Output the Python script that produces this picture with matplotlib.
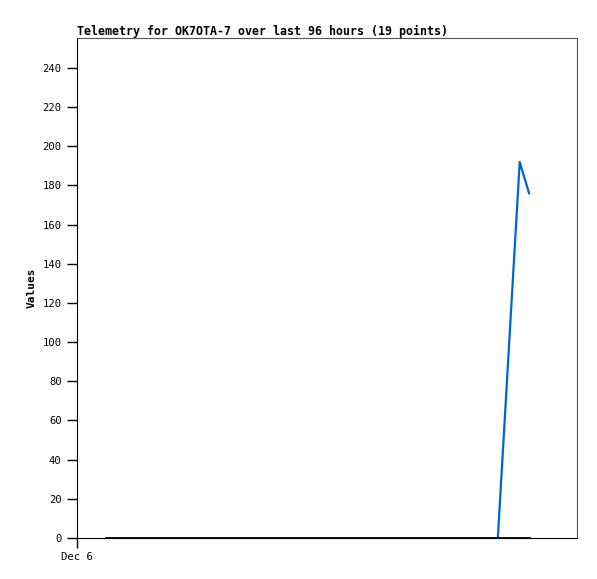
import matplotlib
matplotlib.use("Agg")
import matplotlib.pyplot as plt

# hours since start of the 96 h window
zero_hours = [5.6, 86.8]
zero_values = [0, 0]
val_hours = [80.8, 85.0, 86.8]
val_values = [0, 192, 176]
y_ticks = [0, 20, 40, 60, 80, 100, 120, 140, 160, 180, 200, 220, 240]

plt.rcParams["font.family"] = "DejaVu Sans Mono"

fig = plt.figure(figsize=(5.97, 5.79), dpi=100)
ax = fig.add_axes([77 / 597, 1 - 538 / 579, 500 / 597, 500 / 579])

ax.plot(val_hours, val_values, color="#0066cc", lw=1.6)
ax.plot(zero_hours, zero_values, color="black", lw=2.0)

ax.set_xlim(0, 96)
ax.set_ylim(0, 255.3)
ax.set_yticks(y_ticks)
ax.set_xticks([0])
ax.set_xticklabels(["Dec 6"])
ax.tick_params(labelsize=7.6, length=7, width=1, direction="out", pad=4)
ax.tick_params(axis="x", pad=3)

for s in ["left", "bottom"]:
    ax.spines[s].set_color("black")
for s in ["top", "right"]:
    ax.spines[s].set_color("#555555")

ax.set_ylabel("Values", fontsize=8, fontweight="bold", labelpad=4)
ax.set_title("Telemetry for OK7OTA-7 over last 96 hours (19 points)",
             loc="left", fontsize=8.4, fontweight="bold", pad=2)

fig.savefig("out.png", dpi=100)
